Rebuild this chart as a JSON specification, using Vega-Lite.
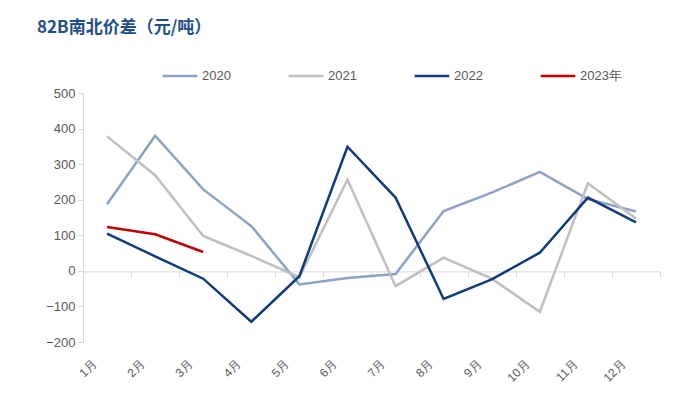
{
  "$schema": "https://vega.github.io/schema/vega-lite/v6.json",
  "autosize": {"type": "none"},
  "width": 577,
  "height": 249,
  "padding": {"left": 83, "top": 93, "right": 32, "bottom": 61},
  "background": "white",
  "title": {
    "text": "82B南北价差（元/吨）",
    "anchor": "start",
    "frame": "group",
    "dx": -46,
    "offset": 20,
    "font": "Noto Sans CJK SC",
    "fontSize": 17,
    "fontWeight": "bold",
    "color": "#1F4E8C"
  },
  "config": {
    "view": {"stroke": null},
    "font": "Liberation Sans"
  },
  "data": {
    "values": [
      {"month": "1月", "year": "2020", "value": 187},
      {"month": "2月", "year": "2020", "value": 380},
      {"month": "3月", "year": "2020", "value": 229},
      {"month": "4月", "year": "2020", "value": 126},
      {"month": "5月", "year": "2020", "value": -38},
      {"month": "6月", "year": "2020", "value": -20},
      {"month": "7月", "year": "2020", "value": -9},
      {"month": "8月", "year": "2020", "value": 168},
      {"month": "9月", "year": "2020", "value": 220},
      {"month": "10月", "year": "2020", "value": 278},
      {"month": "11月", "year": "2020", "value": 202},
      {"month": "12月", "year": "2020", "value": 167},
      {"month": "1月", "year": "2021", "value": 378},
      {"month": "2月", "year": "2021", "value": 269},
      {"month": "3月", "year": "2021", "value": 98},
      {"month": "4月", "year": "2021", "value": 42},
      {"month": "5月", "year": "2021", "value": -18},
      {"month": "6月", "year": "2021", "value": 256},
      {"month": "7月", "year": "2021", "value": -43},
      {"month": "8月", "year": "2021", "value": 37},
      {"month": "9月", "year": "2021", "value": -22},
      {"month": "10月", "year": "2021", "value": -115},
      {"month": "11月", "year": "2021", "value": 246},
      {"month": "12月", "year": "2021", "value": 147},
      {"month": "1月", "year": "2022", "value": 105},
      {"month": "2月", "year": "2022", "value": 41},
      {"month": "3月", "year": "2022", "value": -22},
      {"month": "4月", "year": "2022", "value": -143},
      {"month": "5月", "year": "2022", "value": -15},
      {"month": "6月", "year": "2022", "value": 349},
      {"month": "7月", "year": "2022", "value": 206},
      {"month": "8月", "year": "2022", "value": -79},
      {"month": "9月", "year": "2022", "value": -24},
      {"month": "10月", "year": "2022", "value": 51},
      {"month": "11月", "year": "2022", "value": 206},
      {"month": "12月", "year": "2022", "value": 136},
      {"month": "1月", "year": "2023年", "value": 123},
      {"month": "2月", "year": "2023年", "value": 103},
      {"month": "3月", "year": "2023年", "value": 53}
    ]
  },
  "layer": [
    {
      "mark": {"type": "line", "strokeWidth": 2.5, "opacity": 0},
      "encoding": {
        "x": {
          "field": "month",
          "type": "ordinal",
          "sort": ["1月","2月","3月","4月","5月","6月","7月","8月","9月","10月","11月","12月"],
          "scale": {"type": "band", "paddingInner": 0, "paddingOuter": 0},
          "axis": {
            "title": null,
            "orient": "bottom",
            "offset": -70.6,
            "domain": true,
            "domainColor": "#D9D9D9",
            "domainWidth": 1,
            "ticks": true,
            "tickBand": "extent",
            "tickColor": "#D9D9D9",
            "tickSize": 5,
            "labels": false,
            "grid": false
          }
        },
        "y": {
          "field": "value",
          "type": "quantitative",
          "scale": {"domain": [-200, 500], "nice": false, "zero": false},
          "axis": {
            "title": null,
            "values": [-200, -100, 0, 100, 200, 300, 400, 500],
            "labelOverlap": false,
            "grid": false,
            "domainColor": "#D9D9D9",
            "tickColor": "#D9D9D9",
            "tickSize": 5,
            "labelColor": "#595959",
            "labelFontSize": 13,
            "labelPadding": 3
          }
        },
        "detail": {"field": "year"}
      }
    },
    {
      "mark": {"type": "line", "strokeWidth": 2.5},
      "encoding": {
        "x": {
          "field": "month",
          "type": "ordinal",
          "sort": ["1月","2月","3月","4月","5月","6月","7月","8月","9月","10月","11月","12月"],
          "axis": {
            "title": null,
            "orient": "bottom",
            "domain": false,
            "ticks": false,
            "labelAngle": -45,
            "labelColor": "#595959",
            "labelFontSize": 12,
            "labelPadding": 16,
            "labelOffset": -16,
            "grid": false
          }
        },
        "y": {
          "field": "value",
          "type": "quantitative",
          "axis": {
            "title": null,
            "values": [-200, -100, 0, 100, 200, 300, 400, 500],
            "labelOverlap": false,
            "grid": false,
            "domainColor": "#D9D9D9",
            "tickColor": "#D9D9D9",
            "tickSize": 5,
            "labelColor": "#595959",
            "labelFontSize": 13,
            "labelPadding": 3
          }
        },
        "color": {
          "field": "year",
          "type": "nominal",
          "scale": {
            "domain": ["2020", "2021", "2022", "2023年"],
            "range": ["#8DA2C3", "#BFBFBF", "#0F3B7E", "#C00000"]
          },
          "legend": {
            "title": null,
            "orient": "none",
            "legendX": 78,
            "legendY": -36,
            "direction": "horizontal",
            "columns": 4,
            "columnPadding": 52,
            "symbolType": "stroke",
            "symbolSize": 1200,
            "symbolStrokeWidth": 2.6,
            "labelColor": "#595959",
            "labelFontSize": 13,
            "labelOffset": 3
          }
        }
      }
    }
  ],
  "resolve": {"axis": {"x": "independent"}}
}
